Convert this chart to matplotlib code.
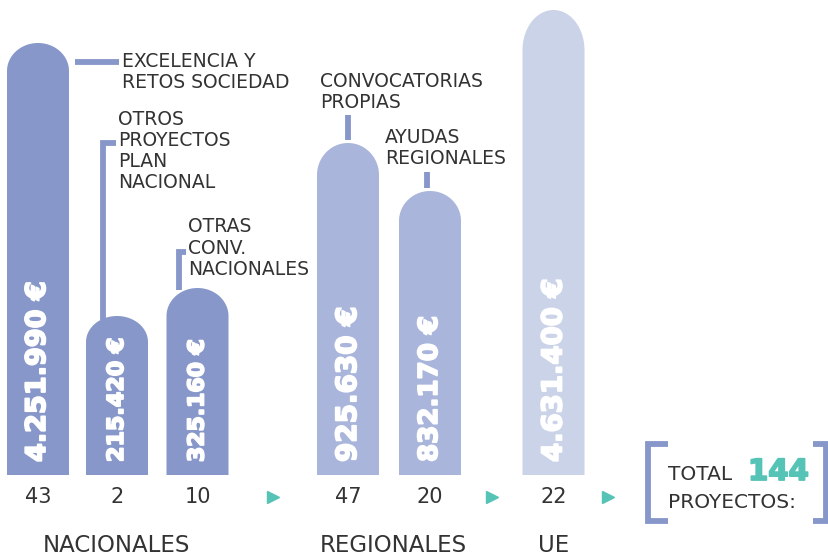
import numpy as np
import matplotlib
matplotlib.use("Agg")
import matplotlib.pyplot as plt
import matplotlib.patheffects as pe
from matplotlib.patches import Polygon


# Data
categories = ["EXCELENCIA Y\nRETOS SOCIEDAD", "OTROS\nPROYECTOS\nPLAN\nNACIONAL",
              "OTRAS\nCONV.\nNACIONALES", "CONVOCATORIAS\nPROPIAS",
              "AYUDAS\nREGIONALES", ""]
amounts = [4251990, 215420, 325160, 925630, 832170, 4631400]
projects = [43, 2, 10, 47, 20, 22]
bar_heights = [432, 159, 187, 332, 284, 465]   # drawn heights (stylised, not to scale)
groups = ["NACIONALES", "REGIONALES", "UE"]
total_projects = sum(projects)


# Layout (pixel-like units, baseline at 0)
bar_x = [38, 117, 197.5, 348, 430, 553.5]
bar_w = 62
cap_h = [28, 26, 28, 32, 30, 40]
amount_size = [19.5, 16, 15.8, 20, 18.8, 19.8]
bar_colors = ["#8797c9", "#8797c9", "#8797c9", "#a9b5db", "#a9b5db", "#cbd3e8"]
line_color = "#8797c9"
teal = "#55c3b6"
dark = "#333333"

fig = plt.figure(figsize=(8.29, 5.56), dpi=100)
ax = fig.add_axes([0, 0, 1, 1])
ax.set_xlim(0, 829)
ax.set_ylim(-81, 475)
ax.axis("off")

# Rounded-top bars
theta = np.linspace(0, np.pi, 60)
for xc, h, ry, col in zip(bar_x, bar_heights, cap_h, bar_colors):
    rx = bar_w / 2
    cy = h - ry
    arc = np.column_stack([xc + rx * np.cos(theta), cy + ry * np.sin(theta)])
    pts = np.vstack([[xc + rx, 0], arc, [xc - rx, 0]])
    ax.add_patch(Polygon(pts, closed=True, facecolor=col, edgecolor="none"))

# Amount labels inside bars (extra stroke for a heavier look)
for xc, v, fs in zip(bar_x, amounts, amount_size):
    label = f"{v:,}".replace(",", ".") + " €"
    ax.text(xc, 13, label, rotation=90, ha="center", va="bottom",
            color="white", fontsize=fs, fontweight="bold",
            path_effects=[pe.withStroke(linewidth=1.3, foreground="white")])

# Project counts under bars
for xc, n in zip(bar_x, projects):
    ax.text(xc, -22, str(n), ha="center", va="center", color=dark, fontsize=15)

# Teal arrows between groups
ax.plot([273, 492, 608], [-22, -22, -22], linestyle="none", marker=">",
        markersize=8, color=teal)

# Group names
for gx, g in zip([116, 393, 554], groups):
    ax.text(gx, -71, g, ha="center", va="center", color=dark, fontsize=16.5)

# Category labels and connectors
lw = 4.2
label_pos = [(122, 403), (118, 324), (188, 227), (320, 383), (385, 327)]
for (tx, ty), cat in zip(label_pos, categories[:5]):
    ax.text(tx, ty, cat, ha="left", va="center", color=dark, fontsize=13.5,
            linespacing=1.15)

ax.plot([75, 119], [413, 413], color=line_color, lw=lw, solid_capstyle="butt")
ax.plot([116, 103, 103], [332, 332, 155], color=line_color, lw=lw,
        solid_capstyle="butt", solid_joinstyle="miter")
ax.plot([186, 179, 179], [223, 223, 185], color=line_color, lw=lw,
        solid_capstyle="butt", solid_joinstyle="miter")
ax.plot([348, 348], [360, 335], color=line_color, lw=lw, solid_capstyle="butt")
ax.plot([427, 427], [303, 287], color=line_color, lw=lw, solid_capstyle="butt")

# Total box
ax.plot([668, 648, 648, 668], [31, 31, -46, -46], color=line_color, lw=lw,
        solid_capstyle="butt", solid_joinstyle="miter")
ax.plot([813, 826, 826, 813], [31, 31, -46, -46], color=line_color, lw=lw,
        solid_capstyle="butt", solid_joinstyle="miter")
ax.text(668, 0, "TOTAL", ha="left", va="center", color=dark, fontsize=14.5)
ax.text(748, 3, str(total_projects), ha="left", va="center", color=teal,
        fontsize=21, fontweight="bold",
        path_effects=[pe.withStroke(linewidth=1.3, foreground=teal)])
ax.text(668, -27, "PROYECTOS:", ha="left", va="center", color=dark, fontsize=14.5)

fig.savefig("out.png", dpi=100, facecolor="white")
